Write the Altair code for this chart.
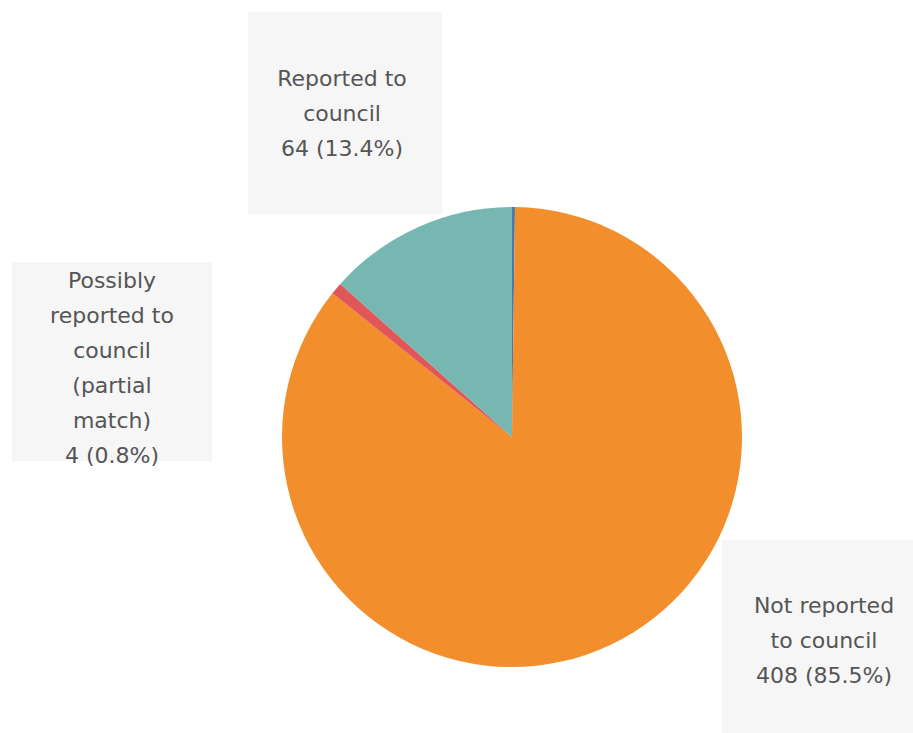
import altair as alt
import pandas as pd

# ---- data ----
categories = ["Other", "Not reported to council",
              "Possibly reported to council (partial match)", "Reported to council"]
counts = [1, 408, 4, 64]
colors = ["#4e79a7", "#f28e2b", "#e15759", "#76b7b2"]

total = sum(counts)
df = pd.DataFrame({
    "category": categories,
    "count": counts,
    "order": list(range(len(categories))),
})

# ---- label layout (annotation boxes, pixel positions) ----
label_cats = ["Reported to council", "Possibly reported to council (partial match)",
              "Not reported to council"]
label_lines = ["Reported to\ncouncil", "Possibly\nreported to\ncouncil\n(partial\nmatch)",
               "Not reported\nto council"]
box_x = [248, 12, 722]
box_x2 = [442, 212, 913]
box_y = [12, 262, 540]
box_y2 = [214, 461, 733]
text_x = [342, 112, 824]
text_y = [79, 281, 606]

lab_texts = []
for c, l in zip(label_cats, label_lines):
    n = counts[categories.index(c)]
    lab_texts.append(f"{l}\n{n} ({n / total * 100:.1f}%)")

lab = pd.DataFrame({
    "category": label_cats, "text": lab_texts,
    "bx": box_x, "bx2": box_x2, "by": box_y, "by2": box_y2,
    "tx": text_x, "ty": text_y,
})

pie = alt.Chart(df).mark_arc(outerRadius=230).encode(
    theta=alt.Theta("count:Q", stack=True),
    color=alt.Color("category:N", scale=alt.Scale(domain=categories, range=colors), legend=None),
    order=alt.Order("order:Q"),
    x=alt.value(512),
    y=alt.value(437),
)

boxes = alt.Chart(lab).mark_rect(color="#f6f6f6").encode(
    x=alt.X("bx:Q", scale=None), x2="bx2:Q",
    y=alt.Y("by:Q", scale=None), y2="by2:Q",
)

texts = alt.Chart(lab).mark_text(
    font="DejaVu Sans", fontSize=22, color="#555555", lineBreak="\n",
    lineHeight=35, align="center", baseline="middle",
).encode(
    x=alt.X("tx:Q", scale=None),
    y=alt.Y("ty:Q", scale=None),
    text="text:N",
)

chart = alt.layer(boxes, pie, texts).properties(
    width=913, height=733, padding=0,
    autosize=alt.AutoSizeParams(type="none"),
).configure_view(stroke=None)

chart.save("out.html", embed_options={"renderer": "svg", "actions": False})
